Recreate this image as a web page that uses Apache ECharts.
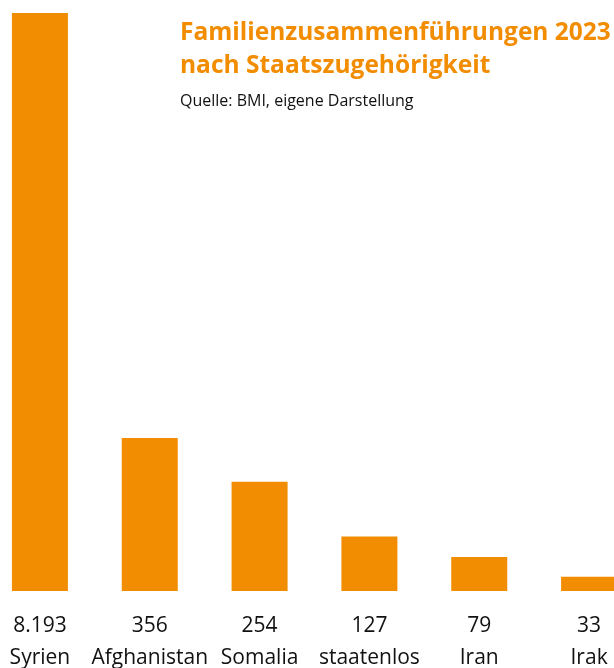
<!DOCTYPE html>
<html>
<head>
<meta charset="utf-8">
<script src="https://cdn.jsdelivr.net/npm/echarts@6/dist/echarts.min.js"></script>
<style>
  html, body { margin: 0; padding: 0; background: #fff; }
  #chart { width: 614px; height: 668px; }
</style>
</head>
<body>
<div id="chart"></div>
<script>
var countries = ["Syrien", "Afghanistan", "Somalia", "staatenlos", "Iran", "Irak"];
var counts = [8193, 356, 254, 127, 79, 33];
var countLabels = ["8.193", "356", "254", "127", "79", "33"];

var orange = "#f28c00";
var font = "Open Sans";

var myChart = echarts.init(document.getElementById("chart"));
var option = {
  animation: false,
  title: [
    {
      text: "Familienzusammenführungen 2023\nnach Staatszugehörigkeit",
      left: 180,
      top: 17,
      padding: 0,
      textStyle: {
        color: orange,
        fontFamily: font,
        fontWeight: "bold",
        fontSize: 24.5,
        lineHeight: 33
      }
    },
    {
      text: "Quelle: BMI, eigene Darstellung",
      left: 180,
      top: 93,
      padding: 0,
      textStyle: {
        color: "#111",
        fontFamily: font,
        fontWeight: "normal",
        fontSize: 16
      }
    }
  ],
  grid: {
    left: -15,
    right: -30,
    top: 13,
    bottom: 77,
    outerBoundsMode: "none"
  },
  xAxis: {
    type: "category",
    data: countries,
    axisLine: { show: false },
    axisTick: { show: false },
    axisLabel: {
      interval: 0,
      margin: 19,
      formatter: function (value, idx) {
        return "{v|" + countLabels[idx] + "}\n{n|" + value + "}";
      },
      rich: {
        v: { fontFamily: font, fontSize: 21, color: "#111", lineHeight: 32 },
        n: { fontFamily: font, fontSize: 21, color: "#111", lineHeight: 32 }
      }
    }
  },
  yAxis: {
    type: "value",
    min: 0,
    max: 1345,
    show: false,
    splitLine: { show: false }
  },
  series: [
    {
      type: "bar",
      data: counts,
      barWidth: 56,
      clip: true,
      itemStyle: { color: orange }
    }
  ]
};
myChart.setOption(option);
</script>
</body>
</html>
